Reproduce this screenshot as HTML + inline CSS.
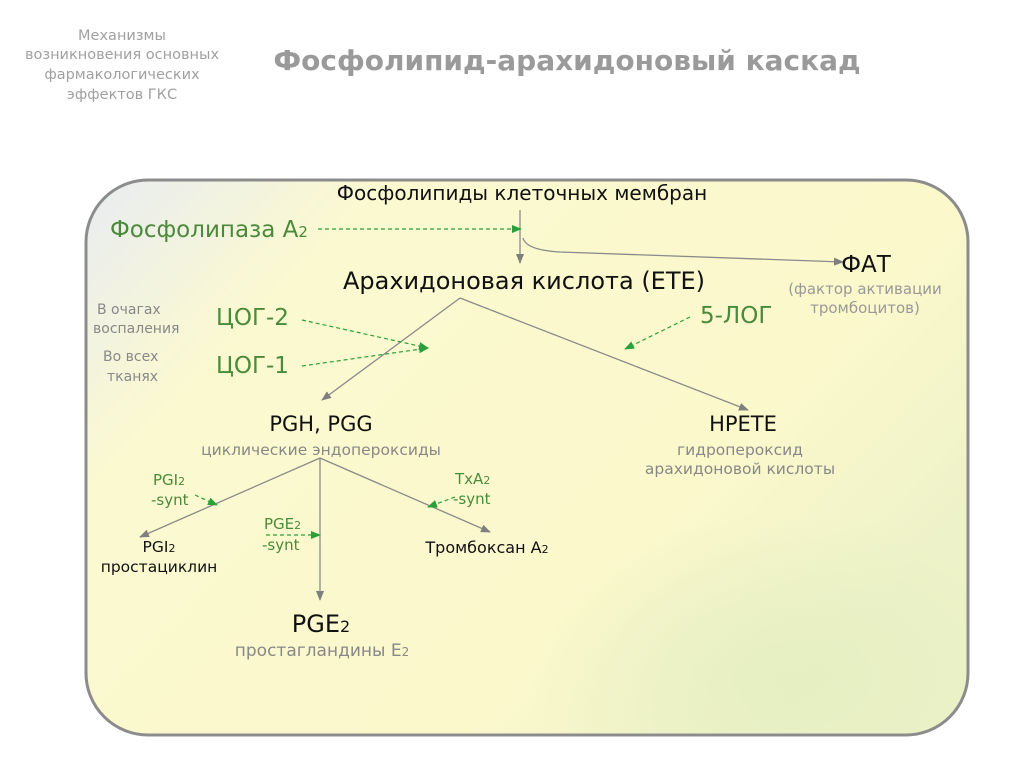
<!DOCTYPE html>
<html><head><meta charset="utf-8"><style>
body{margin:0;width:1024px;height:767px;background:#fff;overflow:hidden}
svg text{font-family:"DejaVu Sans","Liberation Sans",sans-serif}
</style></head><body>
<svg width="1024" height="767" viewBox="0 0 1024 767">
<defs>
<linearGradient id="g" x1="0" y1="0" x2="1" y2="0.6">
<stop offset="0" stop-color="#e8ecf2"/>
<stop offset="0.25" stop-color="#fbf9d0"/>
<stop offset="0.75" stop-color="#fbf8cc"/>
<stop offset="1" stop-color="#eef2c8"/>
</linearGradient>
<radialGradient id="r" cx="0.8" cy="0.9" r="0.3">
<stop offset="0" stop-color="#e2eec0" stop-opacity="0.8"/>
<stop offset="1" stop-color="#e2eec0" stop-opacity="0"/>
</radialGradient>
<marker id="a" markerWidth="10" markerHeight="8" refX="9" refY="4" orient="auto" markerUnits="userSpaceOnUse"><path d="M0,0 L10,4 L0,8z" fill="#7f7f7f"/></marker>
<marker id="ga" markerWidth="10" markerHeight="8" refX="9" refY="4" orient="auto" markerUnits="userSpaceOnUse"><path d="M0,0 L10,4 L0,8z" fill="#2aa03a"/></marker>
</defs>
<text x="122" y="40" font-size="14.5" fill="#a0a0a0" text-anchor="middle">Механизмы</text>
<text x="122" y="59" font-size="14.5" fill="#a0a0a0" text-anchor="middle">возникновения основных</text>
<text x="122" y="79" font-size="14.5" fill="#a0a0a0" text-anchor="middle">фармакологических</text>
<text x="122" y="99" font-size="14.5" fill="#a0a0a0" text-anchor="middle">эффектов ГКС</text>
<text x="567" y="70" font-size="28" font-weight="bold" fill="#9a9a9a" text-anchor="middle">Фосфолипид-арахидоновый каскад</text>
<rect x="86" y="180" width="882" height="555" rx="62" fill="url(#g)" stroke="#8c8c8c" stroke-width="3"/>
<rect x="88" y="182" width="878" height="551" rx="60" fill="url(#r)"/>
<g stroke="#8a8a8a" stroke-width="1.3" fill="none">
<line x1="520" y1="210" x2="520" y2="263" marker-end="url(#a)"/>
<path d="M523,238 Q526,250 560,252 L843,262" marker-end="url(#a)"/>
<line x1="460" y1="298" x2="322" y2="400" marker-end="url(#a)"/>
<line x1="460" y1="298" x2="748" y2="410" marker-end="url(#a)"/>
<line x1="320" y1="458" x2="140" y2="537" marker-end="url(#a)"/>
<line x1="320" y1="458" x2="320" y2="600" marker-end="url(#a)"/>
<line x1="320" y1="458" x2="490" y2="532" marker-end="url(#a)"/>
</g>
<g stroke="#2aa03a" stroke-width="1.2" stroke-dasharray="4,3" fill="none">
<line x1="318" y1="229" x2="521" y2="229" marker-end="url(#ga)"/>
<line x1="302" y1="320" x2="428" y2="348" marker-end="url(#ga)"/>
<line x1="302" y1="366" x2="428" y2="348" marker-end="url(#ga)"/>
<line x1="690" y1="317" x2="625" y2="349" marker-end="url(#ga)"/>
<line x1="195" y1="495" x2="217" y2="505" marker-end="url(#ga)"/>
<line x1="266" y1="535" x2="320" y2="535" marker-end="url(#ga)"/>
<line x1="455" y1="497" x2="428" y2="507" marker-end="url(#ga)"/>
</g>
<text x="522" y="200" font-size="20" fill="#111" text-anchor="middle">Фосфолипиды клеточных мембран</text>
<text x="110" y="237" font-size="23" fill="#4a8a3a">Фосфолипаза А<tspan font-size="15">2</tspan></text>
<text x="524" y="289" font-size="24" fill="#111" text-anchor="middle">Арахидоновая кислота (ЕТЕ)</text>
<text x="866" y="272" font-size="23" fill="#111" text-anchor="middle">ФАТ</text>
<text x="865" y="294" font-size="15" fill="#999" text-anchor="middle">(фактор активации</text>
<text x="865" y="313" font-size="15" fill="#999" text-anchor="middle">тромбоцитов)</text>
<text x="97" y="314" font-size="14" fill="#888">В очагах</text>
<text x="93" y="333" font-size="14" fill="#888">воспаления</text>
<text x="103" y="361" font-size="14" fill="#888">Во всех</text>
<text x="107" y="381" font-size="14" fill="#888">тканях</text>
<text x="216" y="325" font-size="23" fill="#4a8a3a">ЦОГ-2</text>
<text x="216" y="373" font-size="23" fill="#4a8a3a">ЦОГ-1</text>
<text x="700" y="323" font-size="23" fill="#4a8a3a">5-ЛОГ</text>
<text x="321" y="431" font-size="21" fill="#111" text-anchor="middle">PGH, PGG</text>
<text x="321" y="455" font-size="15.5" fill="#888" text-anchor="middle">циклические эндопероксиды</text>
<text x="743" y="431" font-size="21" fill="#111" text-anchor="middle">HPETE</text>
<text x="740" y="455" font-size="15.5" fill="#888" text-anchor="middle">гидропероксид</text>
<text x="740" y="474" font-size="15.5" fill="#888" text-anchor="middle">арахидоновой кислоты</text>
<text x="153" y="485" font-size="15" fill="#4a8a3a">PGI<tspan font-size="11">2</tspan></text>
<text x="151" y="505" font-size="15" fill="#4a8a3a">-synt</text>
<text x="264" y="529" font-size="15" fill="#4a8a3a">PGE<tspan font-size="11">2</tspan></text>
<text x="262" y="550" font-size="15" fill="#4a8a3a">-synt</text>
<text x="455" y="484" font-size="15" fill="#4a8a3a">TxA<tspan font-size="11">2</tspan></text>
<text x="453" y="504" font-size="15" fill="#4a8a3a">-synt</text>
<text x="159" y="552" font-size="15.5" fill="#111" text-anchor="middle">PGI<tspan font-size="11">2</tspan></text>
<text x="159" y="572" font-size="15.5" fill="#111" text-anchor="middle">простациклин</text>
<text x="487" y="553" font-size="16" fill="#111" text-anchor="middle">Тромбоксан А<tspan font-size="11">2</tspan></text>
<text x="321" y="632" font-size="24" fill="#111" text-anchor="middle">PGE<tspan font-size="16">2</tspan></text>
<text x="322" y="656" font-size="17" fill="#888" text-anchor="middle">простагландины Е<tspan font-size="12">2</tspan></text>
</svg>
</body></html>
